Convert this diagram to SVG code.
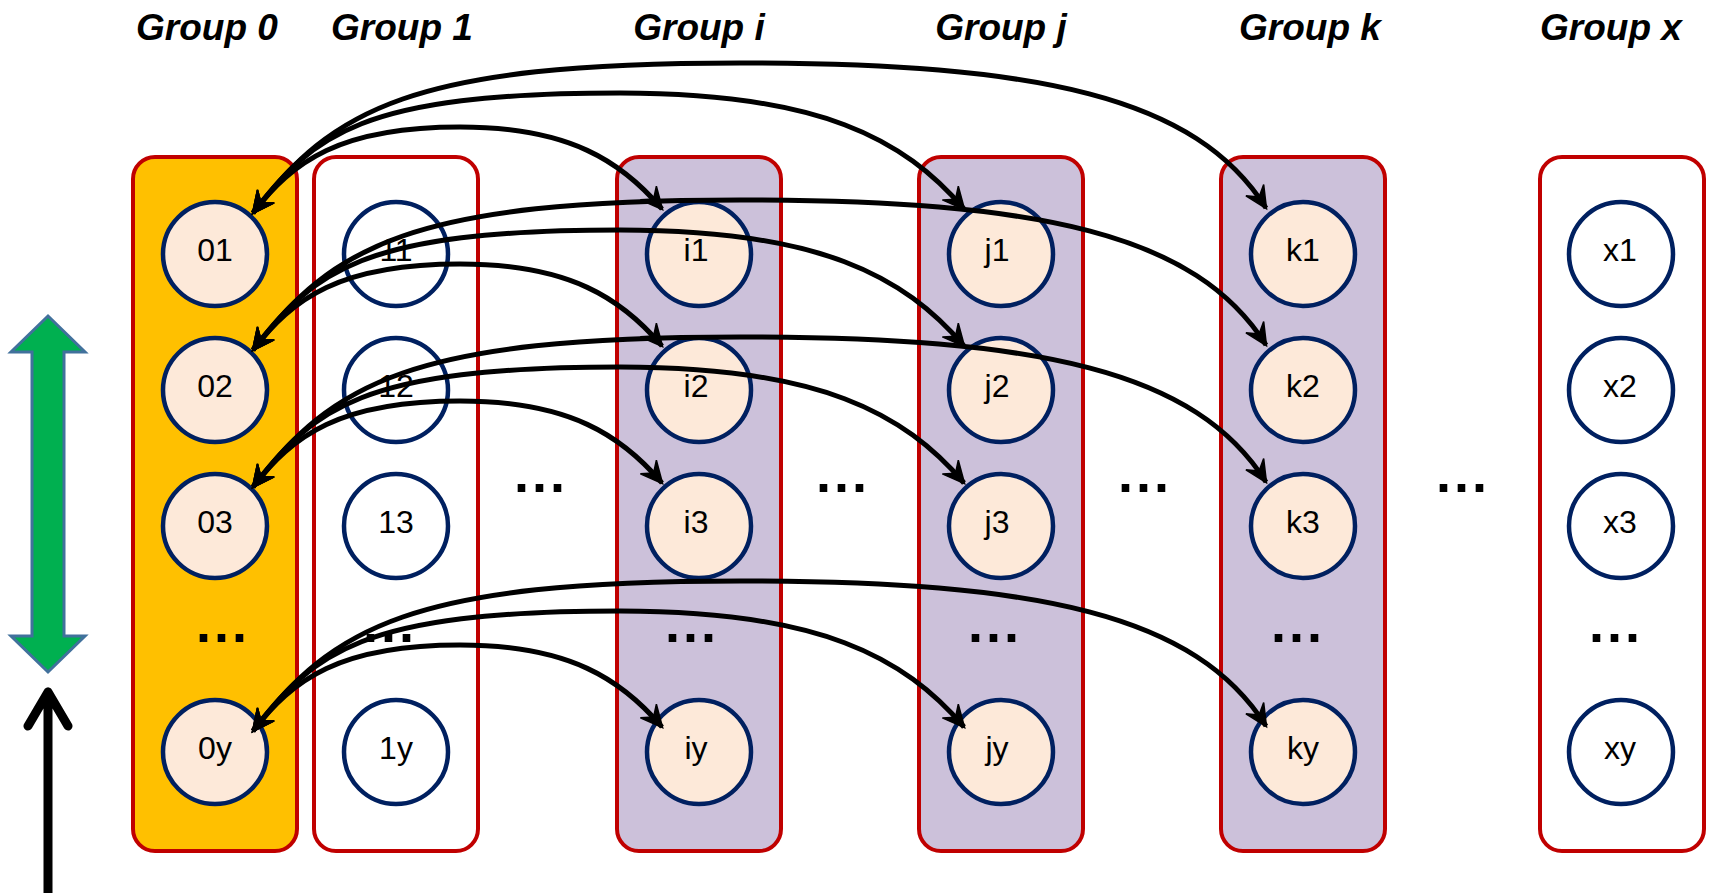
<svg xmlns="http://www.w3.org/2000/svg" width="1712" height="893" viewBox="0 0 1712 893">
<defs>
<style>
.hdr{font-family:"Liberation Sans",Arial,sans-serif;font-size:37px;font-weight:bold;font-style:italic;fill:#000;text-anchor:middle}
.box{stroke:#C00000;stroke-width:4}
.gold{fill:#FFC000}
.lav{fill:#CCC1DA}
.wht{fill:#FFFFFF}
.nd{stroke:#002060;stroke-width:4.5}
.pch{fill:#FDE9D9}
.lbl{font-family:"Liberation Sans",Arial,sans-serif;font-size:32px;fill:#000;text-anchor:middle}
.dots{font-family:"Liberation Sans",Arial,sans-serif;font-size:54px;font-weight:bold;fill:#000;text-anchor:middle;letter-spacing:3px}
.arc{fill:none;stroke:#000;stroke-width:5;marker-start:url(#ah);marker-end:url(#ah)}
</style>
<marker id="ah" markerUnits="userSpaceOnUse" viewBox="-24 -13 28 26" refX="0" refY="0" markerWidth="28" markerHeight="26" orient="auto-start-reverse">
<path d="M1,0 L-21,-10.5 L-13,0 L-21,10.5 Z" fill="#000" stroke="#000" stroke-width="1.5" stroke-linejoin="miter"/>
</marker>
</defs>
<rect width="1712" height="893" fill="#FFFFFF"/>

<g id="headers">
<text class="hdr" x="207" y="40">Group 0</text>
<text class="hdr" x="402" y="40">Group 1</text>
<text class="hdr" x="699" y="40">Group i</text>
<text class="hdr" x="1001" y="40">Group j</text>
<text class="hdr" x="1310" y="40">Group k</text>
<text class="hdr" x="1611" y="40">Group x</text>
</g>

<g id="side-arrows">
<polygon points="48,316 85,352 64,352 64,636 85,636 48,672 11,636 32,636 32,352 11,352" fill="#00B050" stroke="#41719C" stroke-width="3" stroke-linejoin="miter"/>
<path d="M48,893 L48,692 M28,726 L48,692 L68,726" fill="none" stroke="#000" stroke-width="9" stroke-linecap="round" stroke-linejoin="round"/>
</g>

<g id="group0">
<rect class="box gold" x="133" y="157" width="164" height="694" rx="22"/>
<circle class="nd pch" cx="215" cy="254" r="52"/><text class="lbl" x="215" y="261">01</text>
<circle class="nd pch" cx="215" cy="390" r="52"/><text class="lbl" x="215" y="397">02</text>
<circle class="nd pch" cx="215" cy="526" r="52"/><text class="lbl" x="215" y="533">03</text>
<text class="dots" x="223" y="642">...</text>
<circle class="nd pch" cx="215" cy="752" r="52"/><text class="lbl" x="215" y="759">0y</text>
</g>

<g id="group1">
<rect class="box wht" x="314" y="157" width="164" height="694" rx="22"/>
<circle class="nd wht" cx="396" cy="254" r="52"/><text class="lbl" x="396" y="261">11</text>
<circle class="nd wht" cx="396" cy="390" r="52"/><text class="lbl" x="396" y="397">12</text>
<circle class="nd wht" cx="396" cy="526" r="52"/><text class="lbl" x="396" y="533">13</text>
<text class="dots" x="390" y="642">...</text>
<circle class="nd wht" cx="396" cy="752" r="52"/><text class="lbl" x="396" y="759">1y</text>
</g>

<g id="groupi">
<rect class="box lav" x="617" y="157" width="164" height="694" rx="22"/>
<circle class="nd pch" cx="699" cy="254" r="52"/><text class="lbl" x="696" y="261">i1</text>
<circle class="nd pch" cx="699" cy="390" r="52"/><text class="lbl" x="696" y="397">i2</text>
<circle class="nd pch" cx="699" cy="526" r="52"/><text class="lbl" x="696" y="533">i3</text>
<text class="dots" x="692" y="642">...</text>
<circle class="nd pch" cx="699" cy="752" r="52"/><text class="lbl" x="696" y="759">iy</text>
</g>

<g id="groupj">
<rect class="box lav" x="919" y="157" width="164" height="694" rx="22"/>
<circle class="nd pch" cx="1001" cy="254" r="52"/><text class="lbl" x="997" y="261">j1</text>
<circle class="nd pch" cx="1001" cy="390" r="52"/><text class="lbl" x="997" y="397">j2</text>
<circle class="nd pch" cx="1001" cy="526" r="52"/><text class="lbl" x="997" y="533">j3</text>
<text class="dots" x="995" y="642">...</text>
<circle class="nd pch" cx="1001" cy="752" r="52"/><text class="lbl" x="997" y="759">jy</text>
</g>

<g id="groupk">
<rect class="box lav" x="1221" y="157" width="164" height="694" rx="22"/>
<circle class="nd pch" cx="1303" cy="254" r="52"/><text class="lbl" x="1303" y="261">k1</text>
<circle class="nd pch" cx="1303" cy="390" r="52"/><text class="lbl" x="1303" y="397">k2</text>
<circle class="nd pch" cx="1303" cy="526" r="52"/><text class="lbl" x="1303" y="533">k3</text>
<text class="dots" x="1298" y="642">...</text>
<circle class="nd pch" cx="1303" cy="752" r="52"/><text class="lbl" x="1303" y="759">ky</text>
</g>

<g id="groupx">
<rect class="box wht" x="1540" y="157" width="164" height="694" rx="22"/>
<circle class="nd wht" cx="1621" cy="254" r="52"/><text class="lbl" x="1620" y="261">x1</text>
<circle class="nd wht" cx="1621" cy="390" r="52"/><text class="lbl" x="1620" y="397">x2</text>
<circle class="nd wht" cx="1621" cy="526" r="52"/><text class="lbl" x="1620" y="533">x3</text>
<text class="dots" x="1616" y="642">...</text>
<circle class="nd wht" cx="1621" cy="752" r="52"/><text class="lbl" x="1620" y="759">xy</text>
</g>

<g id="gap-dots">
<text class="dots" x="541" y="492">...</text>
<text class="dots" x="843" y="492">...</text>
<text class="dots" x="1145" y="492">...</text>
<text class="dots" x="1463" y="492">...</text>
</g>

<g id="connectors">
<g id="row1-arcs">
<path class="arc" d="M253,213 C293,161 340,127 460,127 C570,127 622,162 662,209"/>
<path class="arc" d="M253,213 C313,135 360,93 620,93 C820,93 904,139 964,209"/>
<path class="arc" d="M253,213 C333,109 410,63 740,63 C1040,63 1196,97 1266,208"/>
</g>
<g id="row2-arcs" transform="translate(0,137)">
<path class="arc" d="M253,213 C293,161 340,127 460,127 C570,127 622,162 662,209"/>
<path class="arc" d="M253,213 C313,135 360,93 620,93 C820,93 904,139 964,209"/>
<path class="arc" d="M253,213 C333,109 410,63 740,63 C1040,63 1196,97 1266,208"/>
</g>
<g id="row3-arcs" transform="translate(0,274)">
<path class="arc" d="M253,213 C293,161 340,127 460,127 C570,127 622,162 662,209"/>
<path class="arc" d="M253,213 C313,135 360,93 620,93 C820,93 904,139 964,209"/>
<path class="arc" d="M253,213 C333,109 410,63 740,63 C1040,63 1196,97 1266,208"/>
</g>
<g id="rowy-arcs" transform="translate(0,518)">
<path class="arc" d="M253,213 C293,161 340,127 460,127 C570,127 622,162 662,209"/>
<path class="arc" d="M253,213 C313,135 360,93 620,93 C820,93 904,139 964,209"/>
<path class="arc" d="M253,213 C333,109 410,63 740,63 C1040,63 1196,97 1266,208"/>
</g>
</g>
</svg>
